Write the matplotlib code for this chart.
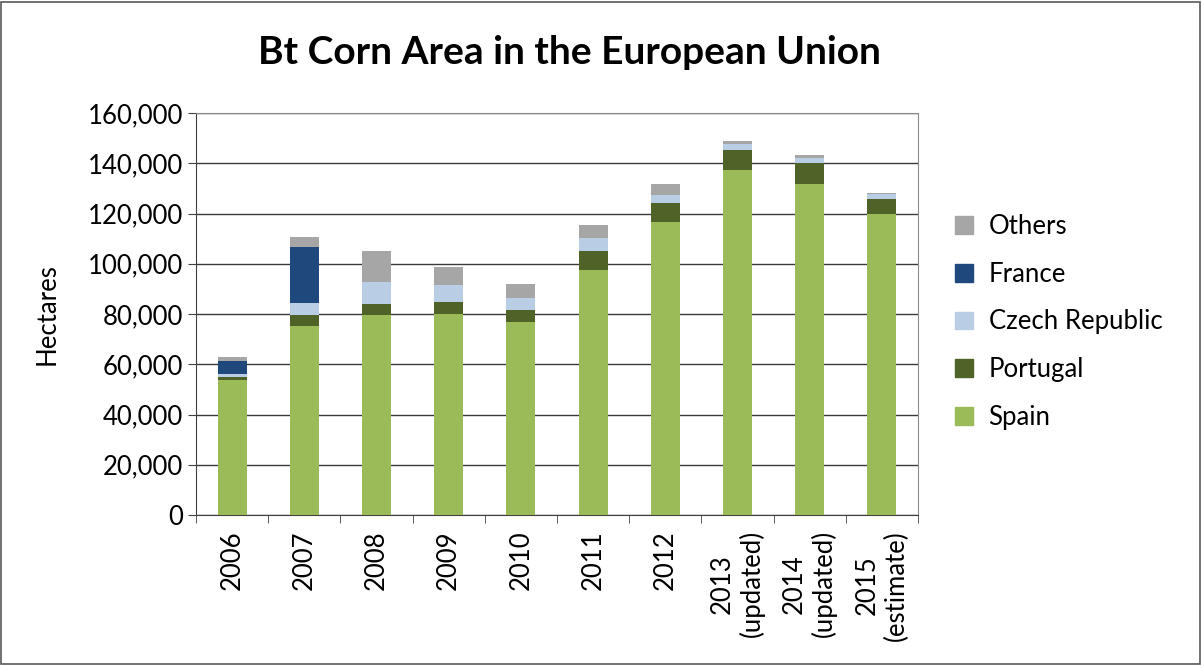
import matplotlib.pyplot as plt
import numpy as np
from matplotlib.patches import Rectangle, Patch

plt.rcParams['font.family'] = ['Lato', 'DejaVu Sans']

years = ["2006", "2007", "2008", "2009", "2010", "2011", "2012",
         "2013\n(updated)", "2014\n(updated)", "2015\n(estimate)"]
spain = [53700, 75300, 79500, 80000, 76700, 97500, 116500, 137200, 131700, 119900]
portugal = [1300, 4200, 4600, 4800, 4900, 7600, 7600, 8000, 8400, 6000]
czech = [1300, 5000, 8600, 6800, 4800, 5300, 3300, 2600, 2100, 1900]
france = [5000, 22000, 0, 0, 0, 0, 0, 0, 0, 0]
others = [1400, 4100, 12500, 7200, 5400, 5100, 4200, 1100, 1000, 400]

series = [("Spain", spain, "#9BBB59"),
          ("Portugal", portugal, "#4F6228"),
          ("Czech Republic", czech, "#B9CDE5"),
          ("France", france, "#1F497D"),
          ("Others", others, "#A6A6A6")]

fig = plt.figure(figsize=(12.02, 6.65), dpi=100)
ax = fig.add_axes([196/1202, 150/665, 722/1202, 402/665])

x = np.arange(len(years))
bottom = np.zeros(len(years))
for name, vals, col in series:
    ax.bar(x, vals, 0.4, bottom=bottom, color=col, edgecolor="none", zorder=3)
    bottom += np.array(vals)

ax.set_xlim(-0.5, len(years) - 0.5)
ax.set_ylim(0, 160000)
ax.set_yticks(np.arange(0, 160001, 20000))
ax.set_yticklabels(["{:,}".format(v) for v in range(0, 160001, 20000)], fontsize=18.5)
ax.yaxis.grid(True, color="#3a3a3a", linewidth=1, zorder=0)

ax.set_xticks(x)
ax.set_xticklabels(years, rotation=90, fontsize=18.5, va="top", ha="center",
                   multialignment="center")
ax.set_xticks(np.arange(-0.5, len(years)), minor=True)
ax.tick_params(axis="x", which="major", length=0, pad=11)
ax.tick_params(axis="x", which="minor", length=6, color="#404040")
ax.tick_params(axis="y", length=6, color="#404040")

for s in ["top", "right"]:
    ax.spines[s].set_color("#8c8c8c")
for s in ["left", "bottom"]:
    ax.spines[s].set_color("#404040")

ax.set_ylabel("Hectares", fontsize=18.5, labelpad=20)
fig.text(569/1202, 1 - 52/665, "Bt Corn Area in the European Union",
         fontsize=28, fontweight="bold", ha="center", va="center")

handles = [Patch(color=c, label=n) for n, v, c in series][::-1]
fig.legend(handles=handles, loc="center left", bbox_to_anchor=(932/1202, 1 - 322/665),
           frameon=False, fontsize=18.5, handlelength=0.7, handleheight=0.7,
           labelspacing=0.88, handletextpad=0.6)

fig.patches.append(Rectangle((1/1202, 1/665), 1199/1202, 662/665, transform=fig.transFigure,
                             fill=False, edgecolor="#595959", linewidth=1.2))

plt.savefig("out.png", dpi=100)
